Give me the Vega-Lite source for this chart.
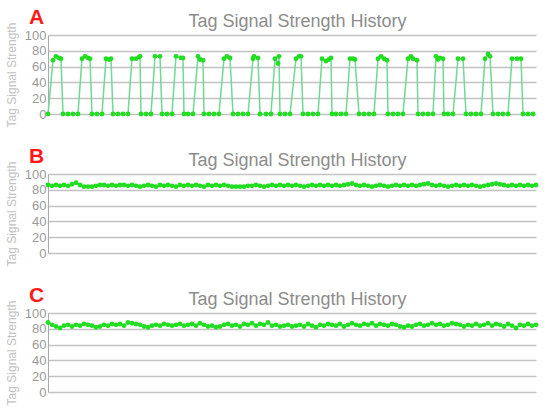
{
  "$schema": "https://vega.github.io/schema/vega-lite/v6.json",
  "background": "white",
  "padding": {"left": 5, "top": 7, "right": 5, "bottom": 5},
  "config": {
    "view": {"stroke": null},
    "font": "Liberation Sans",
    "title": {"anchor": "start", "frame": "group", "dx": -19, "color": "#ff1a1a", "fontSize": 21, "fontWeight": "bold", "offset": -16}
  },
  "datasets": {
    "a": [
      {"t":0,"v":0},{"t":5,"v":68},{"t":8,"v":73},{"t":11,"v":71},{"t":13,"v":70},{"t":15,"v":0},{"t":20,"v":0},{"t":25,"v":0},{"t":30,"v":0},
      {"t":34,"v":70},{"t":37,"v":73},{"t":40,"v":71},{"t":42,"v":70},{"t":44,"v":0},{"t":49,"v":0},{"t":54,"v":0},
      {"t":58,"v":70},{"t":61,"v":69},{"t":63,"v":70},{"t":65,"v":0},{"t":70,"v":0},{"t":75,"v":0},{"t":80,"v":0},
      {"t":84,"v":70},{"t":88,"v":70},{"t":91,"v":72},{"t":92,"v":73},{"t":93,"v":0},{"t":98,"v":0},{"t":103,"v":0},
      {"t":107,"v":73},{"t":112,"v":73},{"t":114,"v":0},{"t":119,"v":0},{"t":124,"v":0},
      {"t":128,"v":73},{"t":133,"v":71},{"t":135,"v":71},{"t":136,"v":0},{"t":140,"v":0},{"t":145,"v":0},
      {"t":150,"v":73},{"t":152,"v":69},{"t":155,"v":68},{"t":156,"v":0},{"t":161,"v":0},{"t":166,"v":0},{"t":171,"v":0},
      {"t":176,"v":70},{"t":179,"v":73},{"t":182,"v":71},{"t":185,"v":0},{"t":190,"v":0},{"t":195,"v":0},{"t":200,"v":0},
      {"t":205,"v":70},{"t":206,"v":73},{"t":210,"v":71},{"t":212,"v":0},{"t":218,"v":0},{"t":223,"v":0},
      {"t":227,"v":70},{"t":230,"v":64},{"t":231,"v":73},{"t":232,"v":0},{"t":237,"v":0},{"t":242,"v":0},
      {"t":248,"v":70},{"t":251,"v":73},{"t":253,"v":73},{"t":255,"v":0},{"t":260,"v":0},{"t":265,"v":0},{"t":270,"v":0},
      {"t":274,"v":70},{"t":278,"v":67},{"t":281,"v":69},{"t":283,"v":71},{"t":284,"v":0},{"t":288,"v":0},{"t":293,"v":0},{"t":298,"v":0},
      {"t":302,"v":70},{"t":305,"v":70},{"t":307,"v":69},{"t":311,"v":0},{"t":316,"v":0},{"t":321,"v":0},{"t":326,"v":0},
      {"t":330,"v":70},{"t":333,"v":73},{"t":336,"v":70},{"t":339,"v":68},{"t":340,"v":0},{"t":345,"v":0},{"t":350,"v":0},{"t":355,"v":0},
      {"t":360,"v":70},{"t":363,"v":73},{"t":365,"v":70},{"t":369,"v":68},{"t":370,"v":0},{"t":375,"v":0},{"t":380,"v":0},{"t":385,"v":0},
      {"t":388,"v":73},{"t":390,"v":69},{"t":392,"v":71},{"t":395,"v":70},{"t":396,"v":0},{"t":400,"v":0},{"t":405,"v":0},
      {"t":410,"v":70},{"t":415,"v":70},{"t":418,"v":0},{"t":423,"v":0},{"t":428,"v":0},{"t":433,"v":0},
      {"t":437,"v":70},{"t":440,"v":76},{"t":442,"v":73},{"t":445,"v":0},{"t":450,"v":0},{"t":455,"v":0},{"t":460,"v":0},
      {"t":464,"v":70},{"t":469,"v":70},{"t":473,"v":70},{"t":475,"v":0},{"t":480,"v":0},{"t":485,"v":0}
    ],
    "b": [
      {"t":0,"v":86},{"t":4,"v":85},{"t":8,"v":86},{"t":12,"v":85},{"t":16,"v":86},{"t":20,"v":85},{"t":24,"v":87},{"t":28,"v":89},{"t":32,"v":86},{"t":36,"v":84},
      {"t":40,"v":84},{"t":44,"v":84},{"t":48,"v":85},{"t":52,"v":86},{"t":56,"v":86},{"t":60,"v":85},{"t":64,"v":86},{"t":68,"v":85},{"t":72,"v":86},{"t":76,"v":86},
      {"t":80,"v":85},{"t":84,"v":86},{"t":88,"v":85},{"t":92,"v":84},{"t":96,"v":85},{"t":100,"v":86},{"t":104,"v":85},{"t":108,"v":84},{"t":112,"v":86},{"t":116,"v":85},
      {"t":120,"v":86},{"t":124,"v":85},{"t":128,"v":84},{"t":132,"v":86},{"t":136,"v":85},{"t":140,"v":86},{"t":144,"v":85},{"t":148,"v":86},{"t":152,"v":85},{"t":156,"v":84},
      {"t":160,"v":86},{"t":164,"v":85},{"t":168,"v":86},{"t":172,"v":85},{"t":176,"v":86},{"t":180,"v":85},{"t":184,"v":84},{"t":188,"v":84},{"t":192,"v":84},{"t":196,"v":84},
      {"t":200,"v":85},{"t":204,"v":85},{"t":208,"v":86},{"t":212,"v":85},{"t":216,"v":84},{"t":220,"v":85},{"t":224,"v":86},{"t":228,"v":85},{"t":232,"v":86},{"t":236,"v":85},
      {"t":240,"v":86},{"t":244,"v":85},{"t":248,"v":86},{"t":252,"v":85},{"t":256,"v":84},{"t":260,"v":85},{"t":264,"v":86},{"t":268,"v":85},{"t":272,"v":86},{"t":276,"v":85},
      {"t":280,"v":86},{"t":284,"v":85},{"t":288,"v":86},{"t":292,"v":85},{"t":296,"v":86},{"t":300,"v":87},{"t":304,"v":88},{"t":308,"v":86},{"t":312,"v":85},{"t":316,"v":86},
      {"t":320,"v":85},{"t":324,"v":84},{"t":328,"v":85},{"t":332,"v":86},{"t":336,"v":85},{"t":340,"v":84},{"t":344,"v":85},{"t":348,"v":86},{"t":352,"v":85},{"t":356,"v":86},
      {"t":360,"v":85},{"t":364,"v":86},{"t":368,"v":85},{"t":372,"v":86},{"t":376,"v":87},{"t":380,"v":88},{"t":384,"v":86},{"t":388,"v":85},{"t":392,"v":86},{"t":396,"v":85},
      {"t":400,"v":84},{"t":404,"v":85},{"t":408,"v":86},{"t":412,"v":85},{"t":416,"v":86},{"t":420,"v":85},{"t":424,"v":86},{"t":428,"v":85},{"t":432,"v":84},{"t":436,"v":85},
      {"t":440,"v":86},{"t":444,"v":87},{"t":448,"v":88},{"t":452,"v":87},{"t":456,"v":86},{"t":460,"v":85},{"t":464,"v":86},{"t":468,"v":85},{"t":472,"v":86},{"t":476,"v":85},
      {"t":480,"v":86},{"t":484,"v":85},{"t":488,"v":86}
    ],
    "c": [
      {"t":0,"v":88},{"t":4,"v":85},{"t":8,"v":83},{"t":12,"v":81},{"t":16,"v":84},{"t":20,"v":85},{"t":24,"v":83},{"t":28,"v":85},{"t":32,"v":84},{"t":36,"v":86},
      {"t":40,"v":85},{"t":44,"v":84},{"t":48,"v":82},{"t":52,"v":83},{"t":56,"v":85},{"t":60,"v":84},{"t":64,"v":86},{"t":68,"v":85},{"t":72,"v":86},{"t":76,"v":84},
      {"t":80,"v":88},{"t":84,"v":87},{"t":88,"v":86},{"t":92,"v":85},{"t":96,"v":83},{"t":100,"v":82},{"t":104,"v":84},{"t":108,"v":85},{"t":112,"v":84},{"t":116,"v":86},
      {"t":120,"v":85},{"t":124,"v":84},{"t":128,"v":85},{"t":132,"v":86},{"t":136,"v":84},{"t":140,"v":85},{"t":144,"v":86},{"t":148,"v":84},{"t":152,"v":87},{"t":156,"v":85},
      {"t":160,"v":83},{"t":164,"v":84},{"t":168,"v":82},{"t":172,"v":83},{"t":176,"v":85},{"t":180,"v":86},{"t":184,"v":84},{"t":188,"v":85},{"t":192,"v":83},{"t":196,"v":86},
      {"t":200,"v":85},{"t":204,"v":87},{"t":208,"v":84},{"t":212,"v":86},{"t":216,"v":85},{"t":220,"v":88},{"t":224,"v":84},{"t":228,"v":85},{"t":232,"v":83},{"t":236,"v":84},
      {"t":240,"v":85},{"t":244,"v":83},{"t":248,"v":84},{"t":252,"v":85},{"t":256,"v":83},{"t":260,"v":86},{"t":264,"v":84},{"t":268,"v":82},{"t":272,"v":85},{"t":276,"v":84},
      {"t":280,"v":86},{"t":284,"v":85},{"t":288,"v":84},{"t":292,"v":86},{"t":296,"v":83},{"t":300,"v":85},{"t":304,"v":87},{"t":308,"v":85},{"t":312,"v":84},{"t":316,"v":86},
      {"t":320,"v":85},{"t":324,"v":87},{"t":328,"v":84},{"t":332,"v":86},{"t":336,"v":85},{"t":340,"v":84},{"t":344,"v":86},{"t":348,"v":85},{"t":352,"v":83},{"t":356,"v":82},
      {"t":360,"v":84},{"t":364,"v":83},{"t":368,"v":85},{"t":372,"v":86},{"t":376,"v":84},{"t":380,"v":85},{"t":384,"v":87},{"t":388,"v":85},{"t":392,"v":86},{"t":396,"v":84},
      {"t":400,"v":85},{"t":404,"v":87},{"t":408,"v":86},{"t":412,"v":85},{"t":416,"v":83},{"t":420,"v":85},{"t":424,"v":84},{"t":428,"v":86},{"t":432,"v":84},{"t":436,"v":85},
      {"t":440,"v":87},{"t":444,"v":84},{"t":448,"v":86},{"t":452,"v":85},{"t":456,"v":83},{"t":460,"v":86},{"t":464,"v":84},{"t":468,"v":81},{"t":472,"v":85},{"t":476,"v":84},
      {"t":480,"v":86},{"t":484,"v":84},{"t":488,"v":85}
    ]
  },
  "bounds": "flush",
  "spacing": 60,
  "vconcat": [
    {
      "width": 488, "height": 79,
      "title": {"text": "A"},
      "data": {"name": "a"},
      "encoding": {
        "x": {"field": "t", "type": "quantitative", "scale": {"domain": [0, 488], "nice": false, "zero": false},
              "axis": {"orient": "top", "labels": false, "ticks": false, "domain": false, "grid": false, "title": "Tag Signal Strength History", "titleColor": "#8c8c8c", "titleFontSize": 18, "titleFontWeight": "normal", "titlePadding": 5, "titleX": 249}},
        "y": {"field": "v", "type": "quantitative", "scale": {"domain": [0, 100], "nice": false},
              "axis": {"values": [0, 20, 40, 60, 80, 100], "labelColor": "#9a9a9a", "labelFontSize": 13, "labelPadding": 2, "ticks": false, "domainColor": "#aaaaaa", "gridColor": "#c2c2c2", "gridWidth": 1.3, "title": "Tag Signal Strength", "titleColor": "#c2c2c2", "titleFontSize": 12, "titleFontWeight": "normal", "titlePadding": 6}}
      },
      "layer": [
        {"mark": {"type": "line", "color": "#6fd996", "strokeWidth": 1.5}},
        {"mark": {"type": "point", "filled": true, "color": "#22dd22", "size": 24, "opacity": 1}}
      ]
    },
    {
      "width": 488, "height": 79,
      "title": {"text": "B"},
      "data": {"name": "b"},
      "encoding": {
        "x": {"field": "t", "type": "quantitative", "scale": {"domain": [0, 488], "nice": false, "zero": false},
              "axis": {"orient": "top", "labels": false, "ticks": false, "domain": false, "grid": false, "title": "Tag Signal Strength History", "titleColor": "#8c8c8c", "titleFontSize": 18, "titleFontWeight": "normal", "titlePadding": 5, "titleX": 249}},
        "y": {"field": "v", "type": "quantitative", "scale": {"domain": [0, 100], "nice": false},
              "axis": {"values": [0, 20, 40, 60, 80, 100], "labelColor": "#9a9a9a", "labelFontSize": 13, "labelPadding": 2, "ticks": false, "domainColor": "#aaaaaa", "gridColor": "#c2c2c2", "gridWidth": 1.3, "title": "Tag Signal Strength", "titleColor": "#c2c2c2", "titleFontSize": 12, "titleFontWeight": "normal", "titlePadding": 6}}
      },
      "layer": [
        {"mark": {"type": "line", "color": "#6fd996", "strokeWidth": 1.5}},
        {"mark": {"type": "point", "filled": true, "color": "#22dd22", "size": 24, "opacity": 1}}
      ]
    },
    {
      "width": 488, "height": 79,
      "title": {"text": "C"},
      "data": {"name": "c"},
      "encoding": {
        "x": {"field": "t", "type": "quantitative", "scale": {"domain": [0, 488], "nice": false, "zero": false},
              "axis": {"orient": "top", "labels": false, "ticks": false, "domain": false, "grid": false, "title": "Tag Signal Strength History", "titleColor": "#8c8c8c", "titleFontSize": 18, "titleFontWeight": "normal", "titlePadding": 5, "titleX": 249}},
        "y": {"field": "v", "type": "quantitative", "scale": {"domain": [0, 100], "nice": false},
              "axis": {"values": [0, 20, 40, 60, 80, 100], "labelColor": "#9a9a9a", "labelFontSize": 13, "labelPadding": 2, "ticks": false, "domainColor": "#aaaaaa", "gridColor": "#c2c2c2", "gridWidth": 1.3, "title": "Tag Signal Strength", "titleColor": "#c2c2c2", "titleFontSize": 12, "titleFontWeight": "normal", "titlePadding": 6}}
      },
      "layer": [
        {"mark": {"type": "line", "color": "#6fd996", "strokeWidth": 1.5}},
        {"mark": {"type": "point", "filled": true, "color": "#22dd22", "size": 24, "opacity": 1}}
      ]
    }
  ]
}
